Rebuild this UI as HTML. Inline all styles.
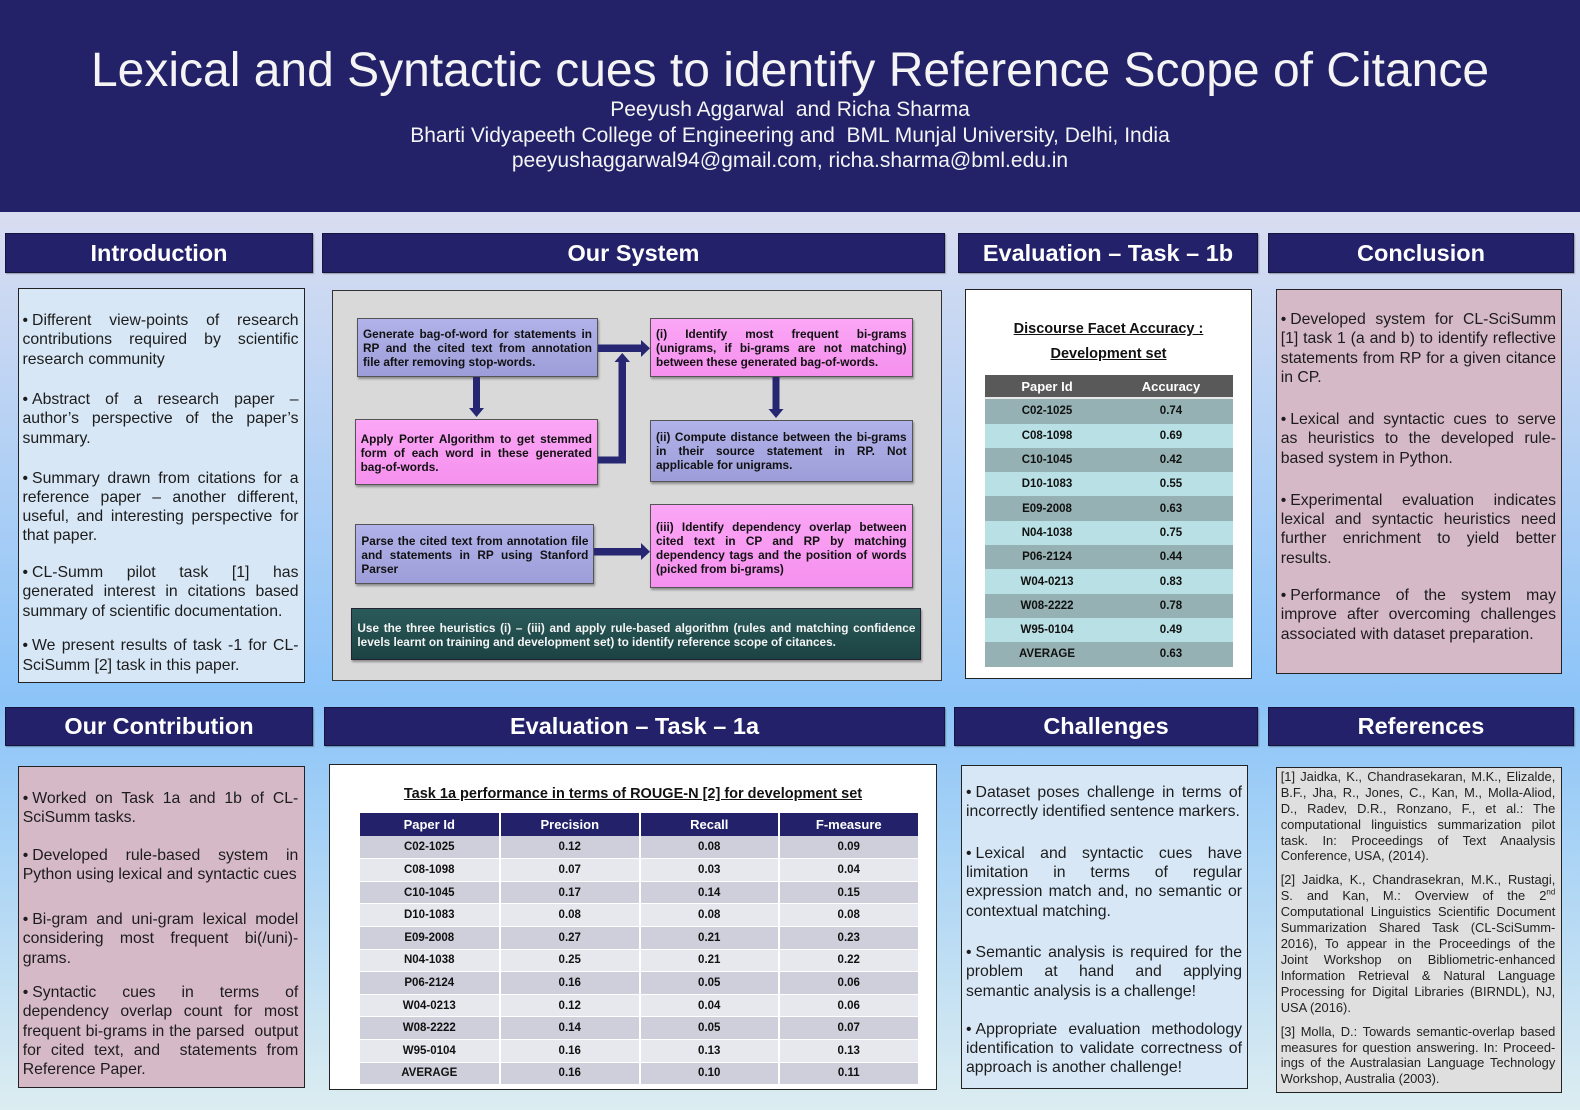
<!DOCTYPE html>
<html><head><meta charset="utf-8">
<style>
*{margin:0;padding:0;box-sizing:border-box}
html,body{width:1580px;height:1110px;overflow:hidden}
body{position:relative;font-family:"Liberation Sans",Arial,sans-serif;background:linear-gradient(180deg,#232269 0px,#232269 212px,#d9ddf1 212px,#8cc4f8 700px,#dcedf1 1110px);}
.a{position:absolute}
.hd{position:absolute;background:#22216a;border:1px solid #15153f;color:#fff;font-weight:bold;font-size:23.5px;display:flex;align-items:center;justify-content:center;white-space:nowrap;box-shadow:1px 1px 1px rgba(0,0,0,.3)}
.box{position:absolute;border:1px solid #222}
.blue{background:#d7e7f6}
.pink{background:#d6b9c6}
.gray{background:#dfdfdf}
.p{position:absolute;font-size:15.8px;line-height:19.3px;color:#1c1c1c}
.p>div{white-space:nowrap;height:19.3px}
.j{text-align:justify;text-align-last:justify}
.bu{display:inline-block;margin-right:4px}
.r{position:absolute;font-size:12.9px;line-height:15.9px;color:#222}
.r>div{white-space:nowrap;height:15.9px}
.db{position:absolute;border:1px solid #555;box-shadow:1px 2px 2px rgba(0,0,0,.35)}
.lav{background:linear-gradient(180deg,#b2b2ea,#9d9dd9)}
.pk{background:linear-gradient(180deg,#fba6f6,#f590ee)}
.dt{position:absolute;font-size:11.8px;font-weight:bold;line-height:14px;color:#111}
.dt>div{white-space:nowrap;height:14px}
.tt{position:absolute;font-weight:bold;font-size:14.5px;text-decoration:underline;color:#111;white-space:nowrap;text-align:center}
.g4{position:absolute;display:grid;grid-template-columns:repeat(4,1fr)}
.g4>div,.g2>div{display:flex;align-items:center;justify-content:center;font-weight:bold;font-size:11.5px;color:#111}
.g2{position:absolute;display:grid;grid-template-columns:repeat(2,1fr)}
</style></head><body>

<div class="a" style="left:0;top:47px;width:1580px;text-align:center;font-size:48px;line-height:48px;color:#f4f4f4;white-space:nowrap">Lexical and Syntactic cues to identify Reference Scope of Citance</div>
<div class="a" style="left:0;top:97px;width:1580px;text-align:center;font-size:21px;line-height:25.5px;color:#f4f4f4;white-space:nowrap">Peeyush Aggarwal&nbsp; and Richa Sharma<br>Bharti Vidyapeeth College of Engineering and&nbsp; BML Munjal University, Delhi, India<br>peeyushaggarwal94@gmail.com, richa.sharma@bml.edu.in</div>

<!-- headings row 1 -->
<div class="hd" style="left:5px;top:233px;width:308px;height:40px">Introduction</div>
<div class="hd" style="left:322px;top:233px;width:623px;height:40px">Our System</div>
<div class="hd" style="left:958px;top:233px;width:300px;height:40px">Evaluation – Task – 1b</div>
<div class="hd" style="left:1268px;top:233px;width:306px;height:40px">Conclusion</div>
<!-- headings row 2 -->
<div class="hd" style="left:5px;top:707px;width:308px;height:39px">Our Contribution</div>
<div class="hd" style="left:324px;top:707px;width:621px;height:39px">Evaluation – Task – 1a</div>
<div class="hd" style="left:954px;top:707px;width:304px;height:39px">Challenges</div>
<div class="hd" style="left:1268px;top:707px;width:306px;height:39px">References</div>

<!-- Introduction -->
<div class="box blue" style="left:18px;top:288px;width:287px;height:395px"></div>
<div class="p" style="left:22.5px;top:311px;width:276px">
<div class="j"><span class="bu">•</span>Different view-points of research</div>
<div class="j">contributions required by scientific</div>
<div>research community</div></div>
<div class="p" style="left:22.5px;top:390px;width:276px">
<div class="j"><span class="bu">•</span>Abstract of a research paper –</div>
<div class="j">author’s perspective of the paper’s</div>
<div>summary.</div></div>
<div class="p" style="left:22.5px;top:468.5px;width:276px">
<div class="j"><span class="bu">•</span>Summary drawn from citations for a</div>
<div class="j">reference paper – another different,</div>
<div class="j">useful, and interesting perspective for</div>
<div>that paper.</div></div>
<div class="p" style="left:22.5px;top:563px;width:276px">
<div class="j"><span class="bu">•</span>CL-Summ pilot task [1] has</div>
<div class="j">generated interest in citations based</div>
<div>summary of scientific documentation.</div></div>
<div class="p" style="left:22.5px;top:636.3px;width:276px">
<div class="j"><span class="bu">•</span>We present results of task -1 for CL-</div>
<div>SciSumm [2] task in this paper.</div></div>

<!-- Our System -->
<div class="box" style="left:332px;top:290px;width:610px;height:391px;background:#d9d9d9;border-color:#333"></div>
<div class="db lav" style="left:357px;top:318px;width:241px;height:59px"></div>
<div class="db pk" style="left:355px;top:419px;width:243px;height:66px"></div>
<div class="db pk" style="left:650px;top:318px;width:263px;height:59px"></div>
<div class="db lav" style="left:650px;top:420px;width:263px;height:62px"></div>
<div class="db lav" style="left:355px;top:524px;width:239px;height:60px"></div>
<div class="db pk" style="left:650px;top:504px;width:263px;height:84px"></div>
<div class="db" style="left:351px;top:608px;width:570px;height:52px;background:linear-gradient(180deg,#2b5a5a,#1c4343);border-color:#223"></div>

<div class="dt" style="left:363px;top:327px;width:229px">
<div class="j">Generate bag-of-word for statements in</div>
<div class="j">RP and the cited text from annotation</div>
<div>file after removing stop-words.</div></div>
<div class="dt" style="left:360.6px;top:431.7px;width:231.4px">
<div class="j">Apply Porter Algorithm to get stemmed</div>
<div class="j">form of each word in these generated</div>
<div>bag-of-words.</div></div>
<div class="dt" style="left:656px;top:327px;width:250.6px">
<div class="j">(i) Identify most frequent bi-grams</div>
<div class="j">(unigrams, if bi-grams are not matching)</div>
<div>between these generated bag-of-words.</div></div>
<div class="dt" style="left:656px;top:429.7px;width:250.6px">
<div class="j">(ii) Compute distance between the bi-grams</div>
<div class="j">in their source statement in RP. Not</div>
<div>applicable for unigrams.</div></div>
<div class="dt" style="left:361.4px;top:534.4px;width:227px">
<div class="j">Parse the cited text from annotation file</div>
<div class="j">and statements in RP using Stanford</div>
<div>Parser</div></div>
<div class="dt" style="left:656px;top:519.7px;width:250.6px">
<div class="j">(iii) Identify dependency overlap between</div>
<div class="j">cited text in CP and RP by matching</div>
<div class="j">dependency tags and the position of words</div>
<div>(picked from bi-grams)</div></div>
<div class="dt" style="left:357.4px;top:621px;width:558px;color:#f4f4f4">
<div class="j">Use the three heuristics (i) – (iii) and apply rule-based algorithm (rules and matching confidence</div>
<div>levels learnt on training and development set) to identify reference scope of citances.</div></div>

<svg class="a" style="left:0;top:0" width="1580" height="1110" viewBox="0 0 1580 1110">
<g fill="#262673">
<rect x="473" y="377" width="7" height="32"/><polygon points="469,408 484,408 476.5,417"/>
<rect x="598" y="344.5" width="44" height="7.5"/><polygon points="641,340 641,357 650,348.3"/>
<rect x="598" y="456.5" width="28" height="7"/><rect x="618.5" y="361" width="7.5" height="102.5"/><polygon points="614.5,362 630,362 622.3,353"/>
<rect x="772.5" y="377" width="7" height="33"/><polygon points="768.5,409 783.5,409 776,418"/>
<rect x="594" y="548" width="48" height="7.5"/><polygon points="641,543 641,560 650,551.7"/>
</g></svg>

<!-- Evaluation 1b -->
<div class="box" style="left:965px;top:289px;width:287px;height:390px;background:#fff"></div>
<div class="tt" style="left:965px;top:320px;width:287px;line-height:18px">Discourse Facet Accuracy :</div>
<div class="tt" style="left:965px;top:345.3px;width:287px;line-height:18px">Development set</div>
<div class="g2" style="left:985px;top:375px;width:248px;grid-template-rows:24.3px repeat(11,24.3px)">
<div style="background:#595959;color:#fff;font-size:13px;border-bottom:2px solid #e8e8e8">Paper Id</div><div style="background:#595959;color:#fff;font-size:13px;border-bottom:2px solid #e8e8e8">Accuracy</div>
<div style="background:#95b1b3">C02-1025</div><div style="background:#95b1b3">0.74</div>
<div style="background:#b9e0e4">C08-1098</div><div style="background:#b9e0e4">0.69</div>
<div style="background:#95b1b3">C10-1045</div><div style="background:#95b1b3">0.42</div>
<div style="background:#b9e0e4">D10-1083</div><div style="background:#b9e0e4">0.55</div>
<div style="background:#95b1b3">E09-2008</div><div style="background:#95b1b3">0.63</div>
<div style="background:#b9e0e4">N04-1038</div><div style="background:#b9e0e4">0.75</div>
<div style="background:#95b1b3">P06-2124</div><div style="background:#95b1b3">0.44</div>
<div style="background:#b9e0e4">W04-0213</div><div style="background:#b9e0e4">0.83</div>
<div style="background:#95b1b3">W08-2222</div><div style="background:#95b1b3">0.78</div>
<div style="background:#b9e0e4">W95-0104</div><div style="background:#b9e0e4">0.49</div>
<div style="background:#95b1b3">AVERAGE</div><div style="background:#95b1b3">0.63</div>
</div>

<!-- Conclusion -->
<div class="box pink" style="left:1276px;top:289px;width:286px;height:385px"></div>
<div class="p" style="left:1280.7px;top:311px;width:275.3px;line-height:18.9px">
<div class="j"><span class="bu">•</span>Developed system for CL-SciSumm</div>
<div class="j">[1] task 1 (a and b) to identify reflective</div>
<div class="j">statements from RP for a given citance</div>
<div>in CP.</div></div>
<div class="p" style="left:1280.7px;top:411px;width:275.3px;line-height:18.9px">
<div class="j"><span class="bu">•</span>Lexical and syntactic cues to serve</div>
<div class="j">as heuristics to the developed rule-</div>
<div>based system in Python.</div></div>
<div class="p" style="left:1280.7px;top:491.7px;width:275.3px;line-height:18.9px">
<div class="j"><span class="bu">•</span>Experimental evaluation indicates</div>
<div class="j">lexical and syntactic heuristics need</div>
<div class="j">further enrichment to yield better</div>
<div>results.</div></div>
<div class="p" style="left:1280.7px;top:587px;width:275.3px;line-height:18.9px">
<div class="j"><span class="bu">•</span>Performance of the system may</div>
<div class="j">improve after overcoming challenges</div>
<div>associated with dataset preparation.</div></div>

<!-- Our Contribution -->
<div class="box pink" style="left:18px;top:766px;width:287px;height:322px"></div>
<div class="p" style="left:22.7px;top:788.7px;width:275.6px;line-height:19.2px">
<div class="j"><span class="bu">•</span>Worked on Task 1a and 1b of CL-</div>
<div>SciSumm tasks.</div></div>
<div class="p" style="left:22.7px;top:845.7px;width:275.6px;line-height:19.2px">
<div class="j"><span class="bu">•</span>Developed rule-based system in</div>
<div>Python using lexical and syntactic cues</div></div>
<div class="p" style="left:22.7px;top:910px;width:275.6px;line-height:19.3px">
<div class="j"><span class="bu">•</span>Bi-gram and uni-gram lexical model</div>
<div class="j">considering most frequent bi(/uni)-</div>
<div>grams.</div></div>
<div class="p" style="left:22.7px;top:983px;width:275.6px;line-height:19.2px">
<div class="j"><span class="bu">•</span>Syntactic cues in terms of</div>
<div class="j">dependency overlap count for most</div>
<div class="j">frequent bi-grams in the parsed&nbsp; output</div>
<div class="j">for cited text, and&nbsp; statements from</div>
<div>Reference Paper.</div></div>

<!-- Evaluation 1a -->
<div class="box" style="left:329px;top:764px;width:608px;height:326px;background:#fff"></div>
<div class="tt" style="left:329px;top:785.3px;width:608px;line-height:18px">Task 1a performance in terms of ROUGE-N [2] for development set</div>
<div class="g4" style="left:359.5px;top:813px;width:558px;grid-template-rows:22.7px repeat(11,22.6px)">
<div style="background:#22216a;color:#fff;font-size:13px">Paper Id</div><div style="background:#22216a;color:#fff;font-size:13px;border-left:2px solid #fff">Precision</div><div style="background:#22216a;color:#fff;font-size:13px;border-left:2px solid #fff">Recall</div><div style="background:#22216a;color:#fff;font-size:13px;border-left:2px solid #fff">F-measure</div>
</div>
<div class="g4" style="left:359.5px;top:835.7px;width:558px;grid-template-rows:repeat(11,22.6px)">
<div style="background:#cfcfdc">C02-1025</div><div style="background:#cfcfdc;border-left:2px solid #fff">0.12</div><div style="background:#cfcfdc;border-left:2px solid #fff">0.08</div><div style="background:#cfcfdc;border-left:2px solid #fff">0.09</div>
<div style="background:#e7e7ee;border-top:1px solid #fff">C08-1098</div><div style="background:#e7e7ee;border-left:2px solid #fff;border-top:1px solid #fff">0.07</div><div style="background:#e7e7ee;border-left:2px solid #fff;border-top:1px solid #fff">0.03</div><div style="background:#e7e7ee;border-left:2px solid #fff;border-top:1px solid #fff">0.04</div>
<div style="background:#cfcfdc;border-top:1px solid #fff">C10-1045</div><div style="background:#cfcfdc;border-left:2px solid #fff;border-top:1px solid #fff">0.17</div><div style="background:#cfcfdc;border-left:2px solid #fff;border-top:1px solid #fff">0.14</div><div style="background:#cfcfdc;border-left:2px solid #fff;border-top:1px solid #fff">0.15</div>
<div style="background:#e7e7ee;border-top:1px solid #fff">D10-1083</div><div style="background:#e7e7ee;border-left:2px solid #fff;border-top:1px solid #fff">0.08</div><div style="background:#e7e7ee;border-left:2px solid #fff;border-top:1px solid #fff">0.08</div><div style="background:#e7e7ee;border-left:2px solid #fff;border-top:1px solid #fff">0.08</div>
<div style="background:#cfcfdc;border-top:1px solid #fff">E09-2008</div><div style="background:#cfcfdc;border-left:2px solid #fff;border-top:1px solid #fff">0.27</div><div style="background:#cfcfdc;border-left:2px solid #fff;border-top:1px solid #fff">0.21</div><div style="background:#cfcfdc;border-left:2px solid #fff;border-top:1px solid #fff">0.23</div>
<div style="background:#e7e7ee;border-top:1px solid #fff">N04-1038</div><div style="background:#e7e7ee;border-left:2px solid #fff;border-top:1px solid #fff">0.25</div><div style="background:#e7e7ee;border-left:2px solid #fff;border-top:1px solid #fff">0.21</div><div style="background:#e7e7ee;border-left:2px solid #fff;border-top:1px solid #fff">0.22</div>
<div style="background:#cfcfdc;border-top:1px solid #fff">P06-2124</div><div style="background:#cfcfdc;border-left:2px solid #fff;border-top:1px solid #fff">0.16</div><div style="background:#cfcfdc;border-left:2px solid #fff;border-top:1px solid #fff">0.05</div><div style="background:#cfcfdc;border-left:2px solid #fff;border-top:1px solid #fff">0.06</div>
<div style="background:#e7e7ee;border-top:1px solid #fff">W04-0213</div><div style="background:#e7e7ee;border-left:2px solid #fff;border-top:1px solid #fff">0.12</div><div style="background:#e7e7ee;border-left:2px solid #fff;border-top:1px solid #fff">0.04</div><div style="background:#e7e7ee;border-left:2px solid #fff;border-top:1px solid #fff">0.06</div>
<div style="background:#cfcfdc;border-top:1px solid #fff">W08-2222</div><div style="background:#cfcfdc;border-left:2px solid #fff;border-top:1px solid #fff">0.14</div><div style="background:#cfcfdc;border-left:2px solid #fff;border-top:1px solid #fff">0.05</div><div style="background:#cfcfdc;border-left:2px solid #fff;border-top:1px solid #fff">0.07</div>
<div style="background:#e7e7ee;border-top:1px solid #fff">W95-0104</div><div style="background:#e7e7ee;border-left:2px solid #fff;border-top:1px solid #fff">0.16</div><div style="background:#e7e7ee;border-left:2px solid #fff;border-top:1px solid #fff">0.13</div><div style="background:#e7e7ee;border-left:2px solid #fff;border-top:1px solid #fff">0.13</div>
<div style="background:#cfcfdc;border-top:1px solid #fff">AVERAGE</div><div style="background:#cfcfdc;border-left:2px solid #fff;border-top:1px solid #fff">0.16</div><div style="background:#cfcfdc;border-left:2px solid #fff;border-top:1px solid #fff">0.10</div><div style="background:#cfcfdc;border-left:2px solid #fff;border-top:1px solid #fff">0.11</div>
</div>

<!-- Challenges -->
<div class="box blue" style="left:961px;top:765px;width:287px;height:324px"></div>
<div class="p" style="left:966px;top:783px;width:276px">
<div class="j"><span class="bu">•</span>Dataset poses challenge in terms of</div>
<div>incorrectly identified sentence markers.</div></div>
<div class="p" style="left:966px;top:843.7px;width:276px">
<div class="j"><span class="bu">•</span>Lexical and syntactic cues have</div>
<div class="j">limitation in terms of regular</div>
<div class="j">expression match and, no semantic or</div>
<div>contextual matching.</div></div>
<div class="p" style="left:966px;top:943px;width:276px">
<div class="j"><span class="bu">•</span>Semantic analysis is required for the</div>
<div class="j">problem at hand and applying</div>
<div>semantic analysis is a challenge!</div></div>
<div class="p" style="left:966px;top:1019.7px;width:276px">
<div class="j"><span class="bu">•</span>Appropriate evaluation methodology</div>
<div class="j">identification to validate correctness of</div>
<div>approach is another challenge!</div></div>

<!-- References -->
<div class="box gray" style="left:1276px;top:767px;width:286px;height:326px"></div>
<div class="r" style="left:1280.7px;top:769px;width:274.6px">
<div class="j">[1] Jaidka, K., Chandrasekaran, M.K., Elizalde,</div>
<div class="j">B.F., Jha, R., Jones, C., Kan, M., Molla-Aliod,</div>
<div class="j">D., Radev, D.R., Ronzano, F., et al.: The</div>
<div class="j">computational linguistics summarization pilot</div>
<div class="j">task. In: Proceedings of Text Anaalysis</div>
<div>Conference, USA, (2014).</div></div>
<div class="r" style="left:1280.7px;top:872.4px;width:274.6px">
<div class="j">[2] Jaidka, K., Chandrasekran, M.K., Rustagi,</div>
<div class="j">S. and Kan, M.: Overview of the 2<sup style="font-size:8px;line-height:0">nd</sup></div>
<div class="j">Computational Linguistics Scientific Document</div>
<div class="j">Summarization Shared Task (CL-SciSumm-</div>
<div class="j">2016), To appear in the Proceedings of the</div>
<div class="j">Joint Workshop on Bibliometric-enhanced</div>
<div class="j">Information Retrieval &amp; Natural Language</div>
<div class="j">Processing for Digital Libraries (BIRNDL), NJ,</div>
<div>USA (2016).</div></div>
<div class="r" style="left:1280.7px;top:1023.7px;width:274.6px">
<div class="j">[3] Molla, D.: Towards semantic-overlap based</div>
<div class="j">measures for question answering. In: Proceed-</div>
<div class="j">ings of the Australasian Language Technology</div>
<div>Workshop, Australia (2003).</div></div>

</body></html>
